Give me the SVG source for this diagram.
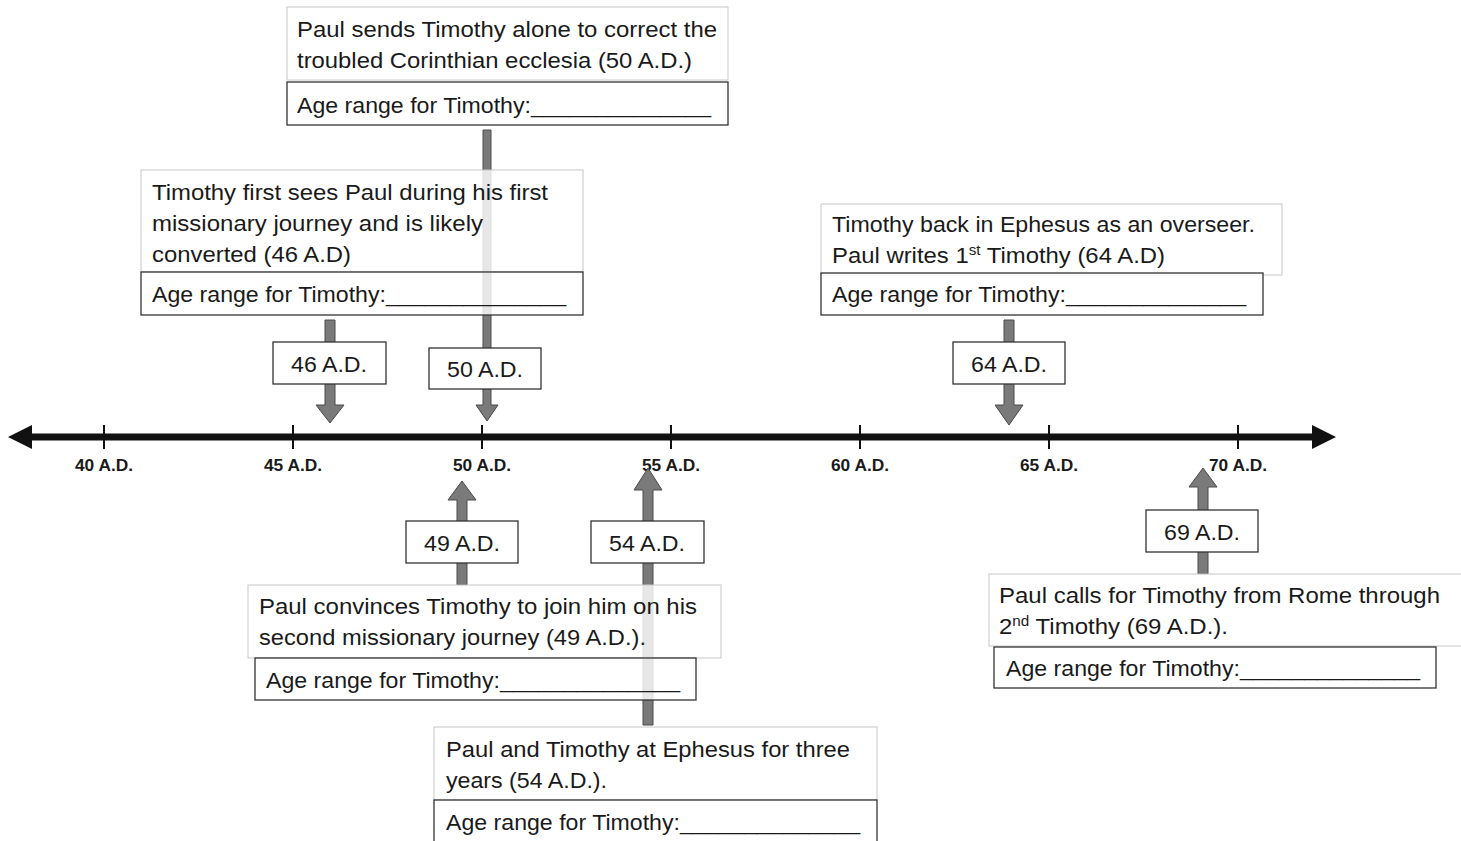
<svg xmlns="http://www.w3.org/2000/svg" width="1461" height="841" viewBox="0 0 1461 841">
<style>
.t{font-family:"Liberation Sans",Arial,sans-serif;font-size:22px;fill:#1a1a1a}
.y{font-family:"Liberation Sans",Arial,sans-serif;font-size:22px;fill:#1a1a1a;text-anchor:middle}
.tk{font-family:"Liberation Sans",Arial,sans-serif;font-size:16px;font-weight:bold;fill:#1a1a1a;text-anchor:middle}
.desc{fill:#fff;fill-opacity:0.82;stroke:#c8c8c8;stroke-width:1}
.age{fill:#fff;fill-opacity:0.82;stroke:#333;stroke-width:1.3}
.yb{fill:#fff;stroke:#333;stroke-width:1.3}
.ar{fill:#7a7a7a;stroke:#4a4a4a;stroke-width:1}
.tick{stroke:#111;stroke-width:2}
.sup{font-size:14px}
</style>
<rect width="1461" height="841" fill="#fff"/>
<g id="timeline">
<line x1="26" y1="437" x2="1316" y2="437" stroke="#111" stroke-width="7"/>
<polygon points="8,437 32,425 32,449" fill="#111"/>
<polygon points="1336,437 1312,425 1312,449" fill="#111"/>
<line class="tick" x1="104" y1="425" x2="104" y2="449"/>
<line class="tick" x1="293" y1="425" x2="293" y2="449"/>
<line class="tick" x1="482" y1="425" x2="482" y2="449"/>
<line class="tick" x1="671" y1="425" x2="671" y2="449"/>
<line class="tick" x1="860" y1="425" x2="860" y2="449"/>
<line class="tick" x1="1049" y1="425" x2="1049" y2="449"/>
<line class="tick" x1="1238" y1="425" x2="1238" y2="449"/>
<text class="tk" x="104" y="471" textLength="58" lengthAdjust="spacingAndGlyphs">40 A.D.</text>
<text class="tk" x="293" y="471" textLength="58" lengthAdjust="spacingAndGlyphs">45 A.D.</text>
<text class="tk" x="482" y="471" textLength="58" lengthAdjust="spacingAndGlyphs">50 A.D.</text>
<text class="tk" x="671" y="471" textLength="58" lengthAdjust="spacingAndGlyphs">55 A.D.</text>
<text class="tk" x="860" y="471" textLength="58" lengthAdjust="spacingAndGlyphs">60 A.D.</text>
<text class="tk" x="1049" y="471" textLength="58" lengthAdjust="spacingAndGlyphs">65 A.D.</text>
<text class="tk" x="1238" y="471" textLength="58" lengthAdjust="spacingAndGlyphs">70 A.D.</text>
</g>
<g id="connectors">
<polygon class="ar" points="483,130 491,130 491,405 498,405 487,421 476,405 483,405"/>
<polygon class="ar" points="325,320 335,320 335,405 344,405 330,423 316,405 325,405"/>
<polygon class="ar" points="1004,320 1014,320 1014,405 1023,405 1009,425 995,405 1004,405"/>
<polygon class="ar" points="457,585 467,585 467,500 476,500 462,481 448,500 457,500"/>
<polygon class="ar" points="643,725 653,725 653,490 662,490 648,468 634,490 643,490"/>
<polygon class="ar" points="1198,574 1208,574 1208,487 1217,487 1203,468 1189,487 1198,487"/>
</g>
<g id="node-50">
<rect class="desc" x="287" y="7" width="441" height="73"/>
<text class="t" x="297" y="37" textLength="420" lengthAdjust="spacingAndGlyphs">Paul sends Timothy alone to correct the</text>
<text class="t" x="297" y="68" textLength="395" lengthAdjust="spacingAndGlyphs">troubled Corinthian ecclesia (50 A.D.)</text>
<rect class="age" x="287" y="82" width="441" height="43"/>
<text class="t" x="297" y="113" textLength="414" lengthAdjust="spacingAndGlyphs">Age range for Timothy:______________</text>
</g>
<g id="node-46">
<rect class="desc" x="141" y="170" width="442" height="102"/>
<text class="t" x="152" y="200" textLength="396" lengthAdjust="spacingAndGlyphs">Timothy first sees Paul during his first</text>
<text class="t" x="152" y="231" textLength="331" lengthAdjust="spacingAndGlyphs">missionary journey and is likely</text>
<text class="t" x="152" y="262" textLength="199" lengthAdjust="spacingAndGlyphs">converted (46 A.D)</text>
<rect class="age" x="141" y="272" width="442" height="43"/>
<text class="t" x="152" y="302" textLength="414" lengthAdjust="spacingAndGlyphs">Age range for Timothy:______________</text>
</g>
<g id="node-64">
<rect class="desc" x="821" y="204" width="461" height="71"/>
<text class="t" x="832" y="232" textLength="423" lengthAdjust="spacingAndGlyphs">Timothy back in Ephesus as an overseer.</text>
<text class="t" x="832" y="263" textLength="333" lengthAdjust="spacingAndGlyphs">Paul writes 1<tspan class="sup" dy="-8">st</tspan><tspan dy="8"> Timothy (64 A.D)</tspan></text>
<rect class="age" x="821" y="273" width="442" height="42"/>
<text class="t" x="832" y="302" textLength="414" lengthAdjust="spacingAndGlyphs">Age range for Timothy:______________</text>
</g>
<g id="year-46"><rect class="yb" x="273" y="342" width="113" height="42"/><text class="y" x="329" y="372" textLength="76" lengthAdjust="spacingAndGlyphs">46 A.D.</text></g>
<g id="year-50"><rect class="yb" x="429" y="348" width="112" height="41"/><text class="y" x="485" y="377" textLength="76" lengthAdjust="spacingAndGlyphs">50 A.D.</text></g>
<g id="year-64"><rect class="yb" x="953" y="342" width="112" height="42"/><text class="y" x="1009" y="372" textLength="76" lengthAdjust="spacingAndGlyphs">64 A.D.</text></g>
<g id="year-49"><rect class="yb" x="406" y="521" width="112" height="42"/><text class="y" x="462" y="551" textLength="76" lengthAdjust="spacingAndGlyphs">49 A.D.</text></g>
<g id="year-54"><rect class="yb" x="591" y="521" width="113" height="42"/><text class="y" x="647" y="551" textLength="76" lengthAdjust="spacingAndGlyphs">54 A.D.</text></g>
<g id="year-69"><rect class="yb" x="1146" y="510" width="112" height="42"/><text class="y" x="1202" y="540" textLength="76" lengthAdjust="spacingAndGlyphs">69 A.D.</text></g>
<g id="node-49">
<rect class="desc" x="248" y="585" width="473" height="73"/>
<text class="t" x="259" y="614" textLength="438" lengthAdjust="spacingAndGlyphs">Paul convinces Timothy to join him on his</text>
<text class="t" x="259" y="645" textLength="387" lengthAdjust="spacingAndGlyphs">second missionary journey (49 A.D.).</text>
<rect class="age" x="255" y="658" width="441" height="42"/>
<text class="t" x="266" y="688" textLength="414" lengthAdjust="spacingAndGlyphs">Age range for Timothy:______________</text>
</g>
<g id="node-54">
<rect class="desc" x="434" y="727" width="443" height="73"/>
<text class="t" x="446" y="757" textLength="404" lengthAdjust="spacingAndGlyphs">Paul and Timothy at Ephesus for three</text>
<text class="t" x="446" y="788" textLength="161" lengthAdjust="spacingAndGlyphs">years (54 A.D.).</text>
<rect class="age" x="434" y="800" width="443" height="45"/>
<text class="t" x="446" y="830" textLength="414" lengthAdjust="spacingAndGlyphs">Age range for Timothy:______________</text>
</g>
<g id="node-69">
<rect class="desc" x="989" y="574" width="475" height="72"/>
<text class="t" x="999" y="603" textLength="441" lengthAdjust="spacingAndGlyphs">Paul calls for Timothy from Rome through</text>
<text class="t" x="999" y="634" textLength="229" lengthAdjust="spacingAndGlyphs">2<tspan class="sup" dy="-8">nd</tspan><tspan dy="8"> Timothy (69 A.D.).</tspan></text>
<rect class="age" x="994" y="647" width="442" height="41"/>
<text class="t" x="1006" y="676" textLength="414" lengthAdjust="spacingAndGlyphs">Age range for Timothy:______________</text>
</g>
</svg>
